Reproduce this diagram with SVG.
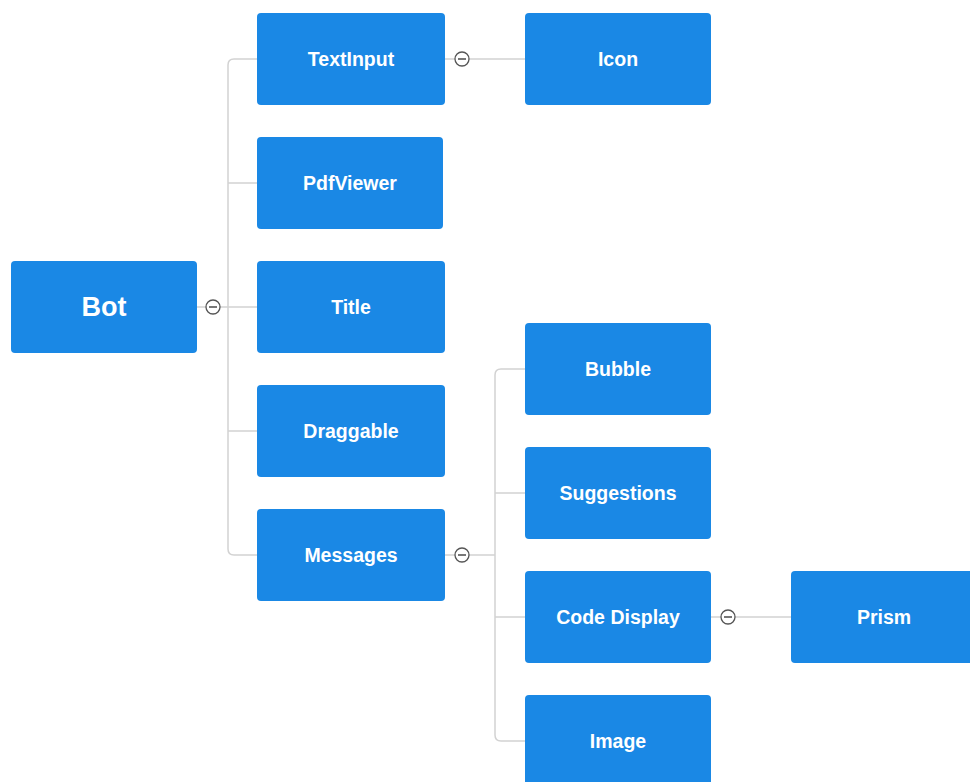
<svg xmlns="http://www.w3.org/2000/svg" width="970" height="782" viewBox="0 0 970 782">
<style>
.n{fill:#1a88e5;}
.t{fill:#fff;font-family:"Liberation Sans",Arial,sans-serif;font-weight:bold;font-size:19.5px;text-anchor:middle;dominant-baseline:central;}
.big{font-size:27px;}
.c{fill:none;stroke:#d2d2d2;stroke-width:1.5;}
.tg circle{fill:#fff;stroke:#555;stroke-width:1.3;}
.tg line{stroke:#555;stroke-width:1.6;}
</style>
<rect width="970" height="782" fill="#fff"/>
<g id="connectors">
<path class="c" d="M197 307H257"/>
<path class="c" d="M257 59H234Q228 59 228 65V549Q228 555 234 555H257"/>
<path class="c" d="M228 183H257M228 431H257"/>
<path class="c" d="M445 59H525"/>
<path class="c" d="M445 555H495"/>
<path class="c" d="M525 369H501Q495 369 495 375V735Q495 741 501 741H525"/>
<path class="c" d="M495 493H525M495 617H525"/>
<path class="c" d="M711 617H791"/>
<g class="tg"><circle cx="213" cy="307" r="7"/><line x1="209" y1="307" x2="217" y2="307"/></g>
<g class="tg"><circle cx="462" cy="59" r="7"/><line x1="458" y1="59" x2="466" y2="59"/></g>
<g class="tg"><circle cx="462" cy="555" r="7"/><line x1="458" y1="555" x2="466" y2="555"/></g>
<g class="tg"><circle cx="728" cy="617" r="7"/><line x1="724" y1="617" x2="732" y2="617"/></g>
</g>
<g id="bot"><rect class="n" x="11" y="261" width="186" height="92" rx="4"/><text class="t big" x="104" y="307">Bot</text></g>
<g id="textinput"><rect class="n" x="257" y="13" width="188" height="92" rx="4"/><text class="t" x="351" y="59">TextInput</text></g>
<g id="pdfviewer"><rect class="n" x="257" y="137" width="186" height="92" rx="4"/><text class="t" x="350" y="183">PdfViewer</text></g>
<g id="title"><rect class="n" x="257" y="261" width="188" height="92" rx="4"/><text class="t" x="351" y="307">Title</text></g>
<g id="draggable"><rect class="n" x="257" y="385" width="188" height="92" rx="4"/><text class="t" x="351" y="431">Draggable</text></g>
<g id="messages"><rect class="n" x="257" y="509" width="188" height="92" rx="4"/><text class="t" x="351" y="555">Messages</text></g>
<g id="icon"><rect class="n" x="525" y="13" width="186" height="92" rx="4"/><text class="t" x="618" y="59">Icon</text></g>
<g id="bubble"><rect class="n" x="525" y="323" width="186" height="92" rx="4"/><text class="t" x="618" y="369">Bubble</text></g>
<g id="suggestions"><rect class="n" x="525" y="447" width="186" height="92" rx="4"/><text class="t" x="618" y="493">Suggestions</text></g>
<g id="codedisplay"><rect class="n" x="525" y="571" width="186" height="92" rx="4"/><text class="t" x="618" y="617">Code Display</text></g>
<g id="image"><rect class="n" x="525" y="695" width="186" height="92" rx="4"/><text class="t" x="618" y="741">Image</text></g>
<g id="prism"><rect class="n" x="791" y="571" width="186" height="92" rx="4"/><text class="t" x="884" y="617">Prism</text></g>
</svg>
